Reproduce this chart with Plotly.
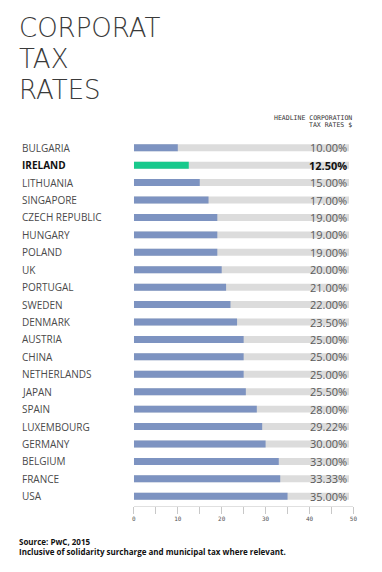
import plotly.graph_objects as go

countries = ["BULGARIA", "IRELAND", "LITHUANIA", "SINGAPORE", "CZECH REPUBLIC", "HUNGARY",
             "POLAND", "UK", "PORTUGAL", "SWEDEN", "DENMARK", "AUSTRIA", "CHINA",
             "NETHERLANDS", "JAPAN", "SPAIN", "LUXEMBOURG", "GERMANY", "BELGIUM", "FRANCE", "USA"]
rates = [10.00, 12.50, 15.00, 17.00, 19.00, 19.00, 19.00, 20.00, 21.00, 22.00, 23.50,
         25.00, 25.00, 25.00, 25.50, 28.00, 29.22, 30.00, 33.00, 33.33, 35.00]
highlight = "IRELAND"
track_max = 49
tick_vals = [0, 10, 20, 30, 40, 50]
title_lines = ["CORPORAT", "TAX", "RATES"]

W, H = 382, 572
x0px, x1px = 134, 357
ytop, ybot = 138.25, 505.75

blue = "#7d93c1"
green = "#18c98c"
colors = [green if c == highlight else blue for c in countries]

fig = go.Figure()
fig.add_trace(go.Bar(y=countries, x=[track_max] * len(countries), orientation="h",
                     marker=dict(color="#dcdcdc", line=dict(width=0)), width=0.4,
                     hoverinfo="skip", showlegend=False))
fig.add_trace(go.Bar(y=countries, x=rates, orientation="h",
                     marker=dict(color=colors, line=dict(width=0)), width=0.4,
                     showlegend=False))

ann = []
for c, v in zip(countries, rates):
    hl = c == highlight
    ann.append(dict(xref="paper", yref="y", x=18 / W, y=c, xanchor="left", yanchor="middle",
                    text=f"<b>{c}</b>" if hl else c, showarrow=False,
                    font=dict(family="Open Sans", size=10, color="#111" if hl else "#4a4a4a")))
    ann.append(dict(xref="x", yref="y", x=track_max, y=c, xanchor="right", yanchor="middle",
                    text=f"<b>{v:.2f}%</b>" if hl else f"{v:.2f}%", showarrow=False,
                    font=dict(family="Open Sans", size=11, color="#111" if hl else "#5a5a5a")))

for i, line in enumerate(title_lines):
    ann.append(dict(xref="paper", yref="paper", x=15 / W, y=1 - (28 + 31 * i) / H,
                    xanchor="left", yanchor="middle", text=line, showarrow=False,
                    font=dict(family="DejaVu Sans", size=26, color="#3a3a3a", weight=200)))

ann.append(dict(xref="paper", yref="paper", x=358 / W, y=1 - 118 / H, xanchor="right",
                yanchor="middle", text="HEADLINE CORPORATION", showarrow=False,
                font=dict(family="DejaVu Sans Mono", size=6.5, color="#333")))
ann.append(dict(xref="paper", yref="paper", x=358 / W, y=1 - 124.5 / H, xanchor="right",
                yanchor="middle", text="TAX RATES $", showarrow=False,
                font=dict(family="DejaVu Sans Mono", size=6.5, color="#333")))
ann.append(dict(xref="paper", yref="paper", x=15 / W, y=1 - 541 / H, xanchor="left",
                yanchor="middle", text="<b>Source: PwC, 2015</b>", showarrow=False,
                font=dict(family="Open Sans", size=8, color="#111")))
ann.append(dict(xref="paper", yref="paper", x=15 / W, y=1 - 551 / H, xanchor="left",
                yanchor="middle",
                text="<b>Inclusive of solidarity surcharge and municipal tax where relevant.</b>",
                showarrow=False, font=dict(family="Open Sans", size=8, color="#111")))

fig.update_layout(
    width=W, height=H, margin=dict(l=0, r=0, t=0, b=0),
    paper_bgcolor="white", plot_bgcolor="white", barmode="overlay",
    annotations=ann,
    xaxis=dict(domain=[x0px / W, x1px / W], range=[0, 50], tickvals=tick_vals,
               showgrid=False, zeroline=False, showline=True, linecolor="#e0e0e0",
               ticks="outside", ticklen=7, tickcolor="#c8c8c8",
               minor=dict(dtick=5, ticks="outside", ticklen=7, tickcolor="#c8c8c8"),
               tickfont=dict(family="DejaVu Sans Mono", size=6, color="#555")),
    yaxis=dict(domain=[1 - ybot / H, 1 - ytop / H], autorange="reversed",
               showticklabels=False, showgrid=False, zeroline=False, showline=False),
)
fig.write_html("out.html", config={"displayModeBar": False},
               post_script="document.body.style.margin='0';document.body.style.overflow='hidden';")
